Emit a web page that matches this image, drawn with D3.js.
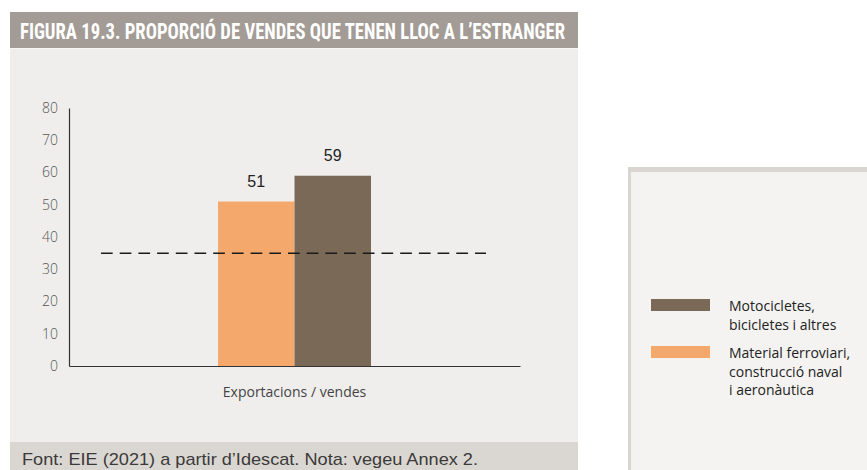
<!DOCTYPE html>
<html>
<head>
<meta charset="utf-8">
<script src="https://cdn.jsdelivr.net/npm/d3@7/dist/d3.min.js"></script>
<style>
  html, body { margin: 0; padding: 0; background: #ffffff; }
  svg { display: block; }
</style>
</head>
<body>
<svg id="chart" width="867" height="470"></svg>
<script>
// Data
const title = "FIGURA 19.3. PROPORCIÓ DE VENDES QUE TENEN LLOC A L\u2019ESTRANGER";
const source = "Font: EIE (2021) a partir d\u2019Idescat. Nota: vegeu Annex 2.";
const categories = ["Exportacions / vendes"];
const seriesNames = ["Material ferroviari, construcció naval i aeronàutica", "Motocicletes, bicicletes i altres"];
const seriesValues = [51, 59];
const seriesColors = ["#f5a86c", "#7b6957"];
const referenceValue = 35;
const yTicks = [0, 10, 20, 30, 40, 50, 60, 70, 80];
const legendOrder = [1, 0];
const legendLines = [
  ["Material ferroviari,", "construcció naval", "i aeronàutica"],
  ["Motocicletes,", "bicicletes i altres"]
];

const svg = d3.select("#chart");

// Panel backgrounds
svg.append("rect").attr("x", 10).attr("y", 12).attr("width", 568).attr("height", 36).attr("fill", "#a39b95");
svg.append("rect").attr("x", 10).attr("y", 48).attr("width", 568).attr("height", 394).attr("fill", "#efeeec");
svg.append("line").attr("x1", 10).attr("x2", 578).attr("y1", 48.5).attr("y2", 48.5).attr("stroke", "#f7f6f4").attr("stroke-width", 1);
svg.append("rect").attr("x", 10).attr("y", 442).attr("width", 568).attr("height", 28).attr("fill", "#dad7d2");

svg.append("text")
  .attr("x", 20).attr("y", 39)
  .attr("font-family", "'Liberation Sans Narrow', 'Roboto Condensed', sans-serif")
  .attr("font-weight", "bold")
  .attr("font-size", 21.5)
  .attr("fill", "#ffffff")
  .attr("textLength", 545).attr("lengthAdjust", "spacingAndGlyphs")
  .text(title);

svg.append("text")
  .attr("x", 22).attr("y", 465)
  .attr("font-family", "'Liberation Sans Narrow', sans-serif")
  .attr("font-size", 17)
  .attr("fill", "#3a3a3a")
  .attr("textLength", 456).attr("lengthAdjust", "spacingAndGlyphs")
  .text(source);

// Scales
const x0 = d3.scaleBand().domain(categories).range([69, 520]).paddingInner(0).paddingOuter(0);
const barGroupWidth = 153;
const x1 = d3.scaleBand().domain(seriesNames).range([0, barGroupWidth]).padding(0);
const y = d3.scaleLinear().domain([0, 80]).range([366, 108]);

const g = svg.append("g");

// Bars
const cat = categories[0];
const groupX = x0(cat) + x0.bandwidth() / 2 - barGroupWidth / 2;
g.selectAll("rect.bar")
  .data(seriesNames.map((n, i) => ({ name: n, value: seriesValues[i], color: seriesColors[i] })))
  .join("rect")
  .attr("class", "bar")
  .attr("x", d => groupX + x1(d.name))
  .attr("width", x1.bandwidth())
  .attr("y", d => y(d.value))
  .attr("height", d => y(0) - y(d.value))
  .attr("fill", d => d.color);

// Value labels
g.selectAll("text.val")
  .data(seriesNames.map((n, i) => ({ name: n, value: seriesValues[i] })))
  .join("text")
  .attr("class", "val")
  .attr("x", d => groupX + x1(d.name) + x1.bandwidth() / 2)
  .attr("y", d => y(d.value) - 15)
  .attr("text-anchor", "middle")
  .attr("font-family", "'Liberation Sans Narrow', sans-serif")
  .attr("font-size", 16)
  .attr("fill", "#222")
  .text(d => d.value);

// Reference dashed line
const [rx0, rx1] = x0.range();
g.append("line")
  .attr("x1", rx0 + 32).attr("x2", rx1 - 34)
  .attr("y1", y(referenceValue)).attr("y2", y(referenceValue))
  .attr("stroke", "#1a1a1a").attr("stroke-width", 1.5)
  .attr("stroke-dasharray", "11.7,7");

// Y axis
const yAxis = g.append("g").attr("transform", "translate(69,0)")
  .call(d3.axisLeft(y).tickValues(yTicks).tickSize(0).tickPadding(11));
yAxis.select(".domain").attr("stroke", "#333").attr("stroke-width", 1.2);
yAxis.selectAll("text")
  .attr("font-family", "'Open Sans', sans-serif")
  .attr("font-size", 14)
  .attr("font-weight", 300)
  .attr("fill", "#555");

// X axis
const xAxis = g.append("g").attr("transform", `translate(0,${y(0)})`)
  .call(d3.axisBottom(x0).tickSize(0).tickPadding(21));
xAxis.select(".domain").attr("stroke", "#333").attr("stroke-width", 1.2);
xAxis.selectAll("text")
  .attr("font-family", "'Open Sans', sans-serif")
  .attr("font-size", 14)
  .attr("fill", "#444");

// Legend box
svg.append("rect").attr("x", 628).attr("y", 167).attr("width", 239).attr("height", 303).attr("fill", "#d9d6d1");
svg.append("rect").attr("x", 631).attr("y", 172).attr("width", 236).attr("height", 298).attr("fill", "#f4f3f1");

const legend = svg.append("g");
const legendTops = [299, 346];
legendOrder.forEach((si, k) => {
  const top = legendTops[k];
  legend.append("rect")
    .attr("x", 651).attr("y", top).attr("width", 59).attr("height", 12)
    .attr("fill", seriesColors[si]);
  const t = legend.append("text")
    .attr("x", 729).attr("y", top + 12)
    .attr("font-family", "'Open Sans', sans-serif")
    .attr("font-size", 14)
    .attr("fill", "#222");
  legendLines[si].forEach((line, j) => {
    t.append("tspan").attr("x", 729).attr("dy", j === 0 ? 0 : 18.5).text(line);
  });
});
</script>
</body>
</html>
